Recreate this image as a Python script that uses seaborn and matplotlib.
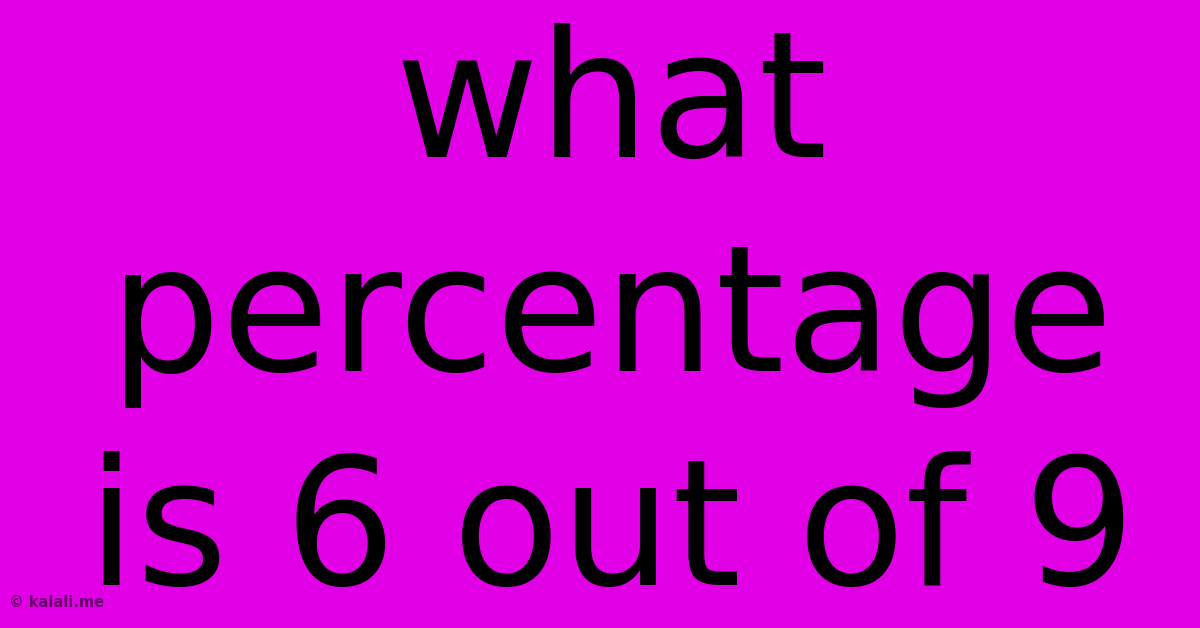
import matplotlib
matplotlib.use("Agg")
import matplotlib.pyplot as plt
import seaborn as sns

# text content of the card
title_lines = ["what", "percentage", "is 6 out of 9"]
watermark = "\u00a9 kalali.me"

bg_color = "#E100E6"

sns.set_theme(style="white")
plt.rcParams["font.family"] = ["DejaVu Sans"]

fig = plt.figure(figsize=(12, 6.28), dpi=100)
fig.patch.set_facecolor(bg_color)
ax = fig.add_axes([0, 0, 1, 1])
ax.set_facecolor(bg_color)
ax.set_xlim(0, 1200)
ax.set_ylim(628, 0)
ax.axis("off")

# baselines of the three lines, in pixels from the top
baselines = [157, 371, 585]
for line, y in zip(title_lines, baselines):
    ax.text(611, y, line, ha="center", va="baseline",
            fontsize=127, color="black")

ax.text(9, 607, watermark, ha="left", va="baseline", fontsize=10.5,
        fontweight="bold", color="#3a003c", alpha=0.75)

plt.savefig("out.png", dpi=100, facecolor=bg_color)
plt.close()
